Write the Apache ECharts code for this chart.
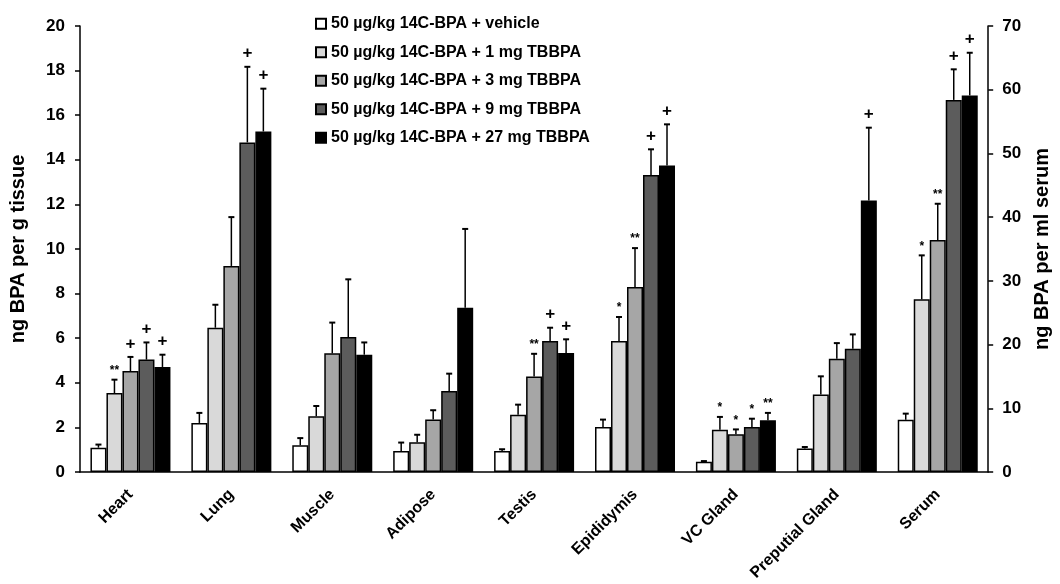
<!DOCTYPE html>
<html><head><meta charset="utf-8">
<script src="https://cdn.jsdelivr.net/npm/echarts@6/dist/echarts.min.js"></script>
<style>html,body{margin:0;padding:0;background:#fff}#c{width:1060px;height:584px}</style>
</head><body><div id="c"></div>
<script>
// Categories (the last one, Serum, is read on the right axis: ng/ml serum)
const categories = ['Heart', 'Lung', 'Muscle', 'Adipose', 'Testis', 'Epididymis', 'VC Gland', 'Preputial Gland', 'Serum'];
const seriesNames = [
  '50 µg/kg 14C-BPA + vehicle',
  '50 µg/kg 14C-BPA + 1 mg TBBPA',
  '50 µg/kg 14C-BPA + 3 mg TBBPA',
  '50 µg/kg 14C-BPA + 9 mg TBBPA',
  '50 µg/kg 14C-BPA + 27 mg TBBPA'
];
// Means
const vehicle = [1.09, 2.20, 1.20, 0.94, 0.94, 2.02, 0.46, 1.05, 8.2];
const tbbpa1  = [3.54, 6.47, 2.50, 1.33, 2.57, 5.87, 1.90, 3.47, 27.1];
const tbbpa3  = [4.53, 9.24, 5.32, 2.35, 4.28, 8.30, 1.69, 5.08, 36.4];
const tbbpa9  = [5.04, 14.78, 6.05, 3.63, 5.87, 13.32, 2.02, 5.53, 58.4];
const tbbpa27 = [4.71, 15.27, 5.26, 7.37, 5.34, 13.74, 2.32, 12.18, 59.1];
// Upper error (SD)
const vehicleErr = [0.14, 0.45, 0.32, 0.38, 0.08, 0.33, 0.03, 0.07, 0.96];
const tbbpa1Err  = [0.60, 1.03, 0.46, 0.34, 0.45, 1.08, 0.57, 0.82, 6.9];
const tbbpa3Err  = [0.63, 2.19, 1.38, 0.42, 1.02, 1.74, 0.22, 0.70, 5.7];
const tbbpa9Err  = [0.77, 3.39, 2.59, 0.78, 0.60, 1.15, 0.37, 0.64, 4.8];
const tbbpa27Err = [0.55, 1.92, 0.55, 3.53, 0.61, 1.85, 0.33, 3.26, 6.7];
// Significance marks
const vehicleMarks = ['', '', '', '', '', '', '', '', ''];
const tbbpa1Marks  = ['**', '', '', '', '', '*', '*', '', '*'];
const tbbpa3Marks  = ['+', '', '', '', '**', '**', '*', '', '**'];
const tbbpa9Marks  = ['+', '+', '', '', '+', '+', '*', '', '+'];
const tbbpa27Marks = ['+', '+', '', '', '+', '+', '**', '+', '+'];
// Axis ticks
const leftTicks = {min: 0, max: 20, interval: 2};
const rightTicks = {min: 0, max: 70, interval: 10};

const values = [vehicle, tbbpa1, tbbpa3, tbbpa9, tbbpa27];
const errors = [vehicleErr, tbbpa1Err, tbbpa3Err, tbbpa9Err, tbbpa27Err];
const marks = [vehicleMarks, tbbpa1Marks, tbbpa3Marks, tbbpa9Marks, tbbpa27Marks];
const colors = ['#ffffff', '#d9d9d9', '#a6a6a6', '#5c5c5c', '#000000'];
const SERUM = categories.indexOf('Serum');
const BW = 16;
const FONT = '"Liberation Sans", Arial, sans-serif';

const series = [];
[0, 1].forEach(axis => {
  values.forEach((vals, si) => {
    series.push({
      type: 'bar', name: seriesNames[si], xAxisIndex: axis, yAxisIndex: axis,
      barWidth: BW, barGap: '0%',
      data: vals.map((v, ci) => ((ci === SERUM) === (axis === 1)) ? v : '-'),
      itemStyle: {color: colors[si], borderColor: '#000', borderWidth: 1.5}
    });
  });
});

function errData(axis) {
  const d = [];
  values.forEach((vals, si) => vals.forEach((v, ci) => {
    if ((ci === SERUM) === (axis === 1)) d.push([ci, v, v + errors[si][ci], si]);
  }));
  return d;
}
function renderErr(params, api) {
  const ci = api.value(0), v = api.value(1), t = api.value(2), si = api.value(3);
  const base = api.coord([ci, v]);
  const tp = api.coord([ci, t]);
  const x = base[0] + (si - 2) * BW;
  const children = [
    {type: 'line', shape: {x1: x, y1: base[1], x2: x, y2: tp[1]}, style: {stroke: '#000', lineWidth: 1.5}},
    {type: 'line', shape: {x1: x - 3, y1: tp[1], x2: x + 3, y2: tp[1]}, style: {stroke: '#000', lineWidth: 2}}
  ];
  const m = marks[si][ci];
  if (m) {
    const plus = m === '+';
    children.push({type: 'text', style: {
      text: m, x: x, y: tp[1] - (plus ? 13 : 9), align: 'center', verticalAlign: 'middle',
      fontSize: plus ? 17 : 12, fontWeight: 'bold', fontFamily: FONT, fill: '#000'
    }});
  }
  return {type: 'group', children};
}
[0, 1].forEach(axis => {
  series.push({
    type: 'custom', name: 'err' + axis, xAxisIndex: axis, yAxisIndex: axis,
    data: errData(axis), encode: {x: 0, y: [1, 2]}, renderItem: renderErr, z: 5, clip: false
  });
});

const axisLineStyle = {color: '#000', width: 1.5};
const labelStyle = {color: '#000', fontWeight: 'bold', fontFamily: FONT};
const chart = echarts.init(document.getElementById('c'));
chart.setOption({
  animation: false,
  backgroundColor: '#fff',
  grid: {left: 80, right: 68, top: 26, bottom: 112},
  legend: {
    data: seriesNames, orient: 'vertical', left: 310, top: 10.7,
    itemWidth: 10, itemHeight: 10, itemGap: 12.5, icon: 'rect', selectedMode: false,
    textStyle: Object.assign({fontSize: 16, lineHeight: 16}, labelStyle)
  },
  xAxis: [
    {type: 'category', data: categories,
     axisLine: {lineStyle: axisLineStyle},
     axisTick: {length: 5, lineStyle: axisLineStyle},
     axisLabel: Object.assign({rotate: 45, fontSize: 16, margin: 20, interval: 0}, labelStyle)},
    {type: 'category', data: categories, show: false}
  ],
  yAxis: [
    Object.assign({type: 'value', position: 'left',
     name: 'ng BPA per g tissue', nameLocation: 'middle', nameGap: 52, nameRotate: 90,
     nameTextStyle: Object.assign({fontSize: 20}, labelStyle),
     axisLine: {show: true, lineStyle: axisLineStyle},
     axisTick: {show: true, length: 5, lineStyle: axisLineStyle},
     axisLabel: Object.assign({fontSize: 17, margin: 15}, labelStyle),
     splitLine: {show: false}}, leftTicks),
    Object.assign({type: 'value', position: 'right',
     name: 'ng BPA per ml serum', nameLocation: 'middle', nameGap: 43, nameRotate: 90,
     nameTextStyle: Object.assign({fontSize: 20}, labelStyle),
     axisLine: {show: true, lineStyle: axisLineStyle},
     axisTick: {show: true, length: 5, lineStyle: axisLineStyle},
     axisLabel: Object.assign({fontSize: 17, margin: 14}, labelStyle),
     splitLine: {show: false}}, rightTicks)
  ],
  series: series
});
</script>
</body></html>
